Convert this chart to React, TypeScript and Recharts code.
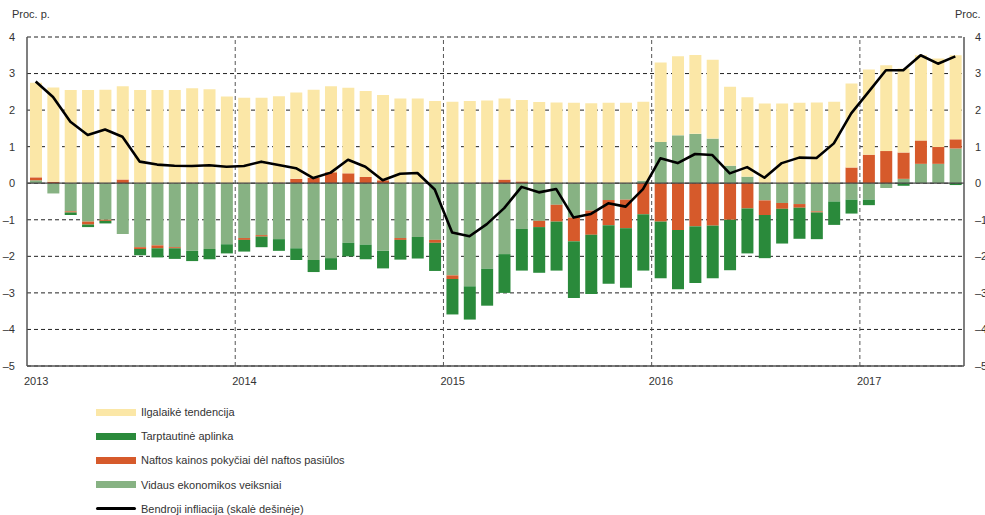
import React from 'react';
import {
  ComposedChart,
  Bar,
  Line,
  XAxis,
  YAxis,
  CartesianGrid,
  ReferenceLine,
} from 'recharts';

// 2013-01 .. 2017-06, monthly
const months: string[] = [];
for (let y = 2013; y <= 2017; y++) {
  for (let m = 1; m <= 12; m++) {
    if (y === 2017 && m > 6) break;
    months.push(`${y}-${String(m).padStart(2, '0')}`);
  }
}

const yearTicks = [0, 12, 24, 36, 48];
const yearLabels = ['2013', '2014', '2015', '2016', '2017'];
const valueTicks = [-5, -4, -3, -2, -1, 0, 1, 2, 3, 4];

// Vidaus ekonomikos veiksniai
const vidaus = [
  0.08, -0.28, -0.77, -1.05, -1.0, -1.39, -1.75, -1.7, -1.75, -1.85, -1.8, -1.67,
  -1.5, -1.42, -1.53, -1.78, -2.1, -2.05, -1.63, -1.68, -1.85, -1.5, -1.47, -1.55,
  -2.52, -2.82, -2.34, -1.94, -1.25, -1.03, -0.59, -0.94, -0.75, -0.46, -0.45, 0.07,
  1.13, 1.31, 1.35, 1.22, 0.48, 0.18, -0.47, -0.54, -0.57, -0.77, -0.5, -0.45,
  -0.45, -0.13, 0.12, 0.53, 0.53, 0.95,
];

// Naftos kainos pokyčiai dėl naftos pasiūlos
const naftos = [
  0.08, 0.04, -0.03, -0.08, -0.03, 0.1, -0.05, -0.08, -0.03, 0.02, 0, 0,
  -0.05, -0.04, 0.02, 0.12, 0.15, 0.3, 0.27, 0.17, 0.08, -0.05, 0, -0.08,
  -0.1, 0, 0.02, 0.1, 0.05, -0.17, -0.46, -0.65, -0.66, -0.69, -0.78, -0.85,
  -1.05, -1.28, -1.18, -1.16, -1.0, -0.69, -0.4, -0.16, -0.1, -0.03, 0, 0.43,
  0.78, 0.88, 0.72, 0.64, 0.46, 0.25,
];

// Tarptautinė aplinka
const tarpt = [
  0, 0, -0.07, -0.07, -0.07, 0, -0.17, -0.25, -0.29, -0.28, -0.28, -0.25,
  -0.32, -0.29, -0.32, -0.32, -0.33, -0.32, -0.37, -0.4, -0.48, -0.54, -0.59, -0.77,
  -0.97, -0.91, -1.01, -1.06, -1.14, -1.25, -1.34, -1.55, -1.62, -1.6, -1.63, -1.54,
  -1.55, -1.62, -1.55, -1.44, -1.38, -1.23, -1.18, -0.95, -0.85, -0.73, -0.64, -0.38,
  -0.15, 0, -0.07, 0, 0, -0.05,
];

// Ilgalaikė tendencija
const ilgalaike = [
  2.59, 2.58, 2.55, 2.55, 2.56, 2.55, 2.55, 2.55, 2.55, 2.58, 2.57, 2.37,
  2.34, 2.34, 2.36, 2.36, 2.41, 2.35, 2.34, 2.35, 2.33, 2.32, 2.32, 2.25,
  2.23, 2.25, 2.24, 2.22, 2.23, 2.22, 2.21, 2.2, 2.19, 2.2, 2.2, 2.16,
  2.17, 2.16, 2.16, 2.16, 2.16, 2.17, 2.18, 2.18, 2.2, 2.21, 2.23, 2.3,
  2.33, 2.35, 2.3, 2.33, 2.42, 2.3,
];

// Bendroji infliacija (skalė dešinėje)
const bendroji = [
  2.78, 2.36, 1.68, 1.32, 1.47, 1.27, 0.59, 0.51, 0.48, 0.47, 0.49, 0.45,
  0.47, 0.59, 0.5, 0.41, 0.14, 0.29, 0.64, 0.45, 0.08, 0.26, 0.28, -0.17,
  -1.35, -1.45, -1.12, -0.68, -0.1, -0.25, -0.16, -0.94, -0.84, -0.55, -0.64, -0.16,
  0.68, 0.55, 0.8, 0.77, 0.27, 0.44, 0.15, 0.55, 0.7, 0.69, 1.09, 1.91,
  2.5, 3.09, 3.09, 3.5, 3.27, 3.47,
];

// x = month index + 0.5 so each bar sits in the middle of its month
const data = months.map((m, i) => ({
  m,
  x: i + 0.5,
  vidaus: vidaus[i],
  naftos: naftos[i],
  tarpt: tarpt[i],
  ilgalaike: ilgalaike[i],
  bendroji: bendroji[i],
}));

const C_YELLOW = '#fbe7a7';
const C_DGREEN = '#2a8a3b';
const C_ORANGE = '#d65a2b';
const C_LGREEN = '#87b283';

const FONT = '"Liberation Sans", Arial, sans-serif';
const FS = 11;

const legendItems = [
  { name: 'Ilgalaikė tendencija', color: C_YELLOW, line: false },
  { name: 'Tarptautinė aplinka', color: C_DGREEN, line: false },
  { name: 'Naftos kainos pokyčiai dėl naftos pasiūlos', color: C_ORANGE, line: false },
  { name: 'Vidaus ekonomikos veiksniai', color: C_LGREEN, line: false },
  { name: 'Bendroji infliacija (skalė dešinėje)', color: '#000', line: true },
];

const fmt = (v: number) => (v < 0 ? '\u2013' + Math.abs(v) : String(v));

const YearTick = (props: any) => {
  const { x, y, payload } = props;
  const idx = yearTicks.indexOf(payload.value);
  return (
    <text x={x - 3} y={y} dy="0.71em" textAnchor="start" fill="#333" fontSize={FS} fontFamily={FONT}>
      {yearLabels[idx]}
    </text>
  );
};

export default function App() {
  return (
    <div style={{ position: 'absolute', left: 0, top: 0, width: 985, height: 515, background: '#fff', fontFamily: FONT }}>
      <div style={{ position: 'absolute', left: 12, top: 8, fontSize: FS, color: '#333' }}>Proc. p.</div>
      <div style={{ position: 'absolute', left: 955, top: 8, fontSize: FS, color: '#333' }}>Proc.</div>
      <div style={{ position: 'absolute', left: 0, top: 0 }}>
        <ComposedChart
          width={985}
          height={392}
          data={data}
          stackOffset="sign"
          barSize={12}
          margin={{ top: 37, right: 0, bottom: 0, left: 0 }}
        >
          <CartesianGrid
            yAxisId="left"
            vertical={false}
            stroke="#222"
            strokeDasharray="4 3"
          />
          <XAxis
            dataKey="x"
            type="number"
            domain={[0, 54]}
            ticks={yearTicks}
            interval={0}
            allowDataOverflow
            tickLine={false}
            tickSize={6}
            tickMargin={5}
            height={26}
            axisLine={{ stroke: '#555', strokeWidth: 1.5 }}
            tick={<YearTick />}
          />
          <YAxis
            yAxisId="left"
            domain={[-5, 4]}
            ticks={valueTicks}
            interval={0}
            width={27}
            tickLine={false}
            tickSize={6}
            tickMargin={6}
            tickFormatter={fmt}
            axisLine={{ stroke: '#555', strokeWidth: 1.5 }}
            tick={{ fill: '#333', fontSize: FS, fontFamily: FONT }}
          />
          <YAxis
            yAxisId="right"
            orientation="right"
            domain={[-5, 4]}
            ticks={valueTicks}
            interval={0}
            width={21}
            tickLine={false}
            tickSize={6}
            tickMargin={5}
            tickFormatter={fmt}
            axisLine={{ stroke: '#555', strokeWidth: 1.5 }}
            tick={{ fill: '#333', fontSize: FS, fontFamily: FONT }}
          />
          {yearTicks.slice(1).map((t) => (
            <ReferenceLine
              key={t}
              yAxisId="left"
              x={t}
              stroke="#555"
              strokeDasharray="4 3"
            />
          ))}
          <Bar yAxisId="left" dataKey="vidaus" stackId="a" fill={C_LGREEN} isAnimationActive={false} />
          <Bar yAxisId="left" dataKey="naftos" stackId="a" fill={C_ORANGE} isAnimationActive={false} />
          <Bar yAxisId="left" dataKey="tarpt" stackId="a" fill={C_DGREEN} isAnimationActive={false} />
          <Bar yAxisId="left" dataKey="ilgalaike" stackId="a" fill={C_YELLOW} isAnimationActive={false} />
          <ReferenceLine yAxisId="left" y={0} stroke="#444" strokeWidth={1.2} />
          <Line
            yAxisId="right"
            type="linear"
            dataKey="bendroji"
            stroke="#000"
            strokeWidth={2.6}
            strokeLinejoin="round"
            dot={false}
            activeDot={false}
            isAnimationActive={false}
          />
        </ComposedChart>
      </div>
      <div style={{ position: 'absolute', left: 96, top: 400 }}>
        {legendItems.map((it) => (
          <div key={it.name} style={{ display: 'flex', alignItems: 'center', height: 24.2, fontSize: FS, color: '#333' }}>
            <div
              style={{
                width: 40,
                height: it.line ? 3 : 7,
                background: it.color,
                marginRight: 5,
                borderRadius: it.line ? 1.5 : 0,
              }}
            />
            <span>{it.name}</span>
          </div>
        ))}
      </div>
    </div>
  );
}
